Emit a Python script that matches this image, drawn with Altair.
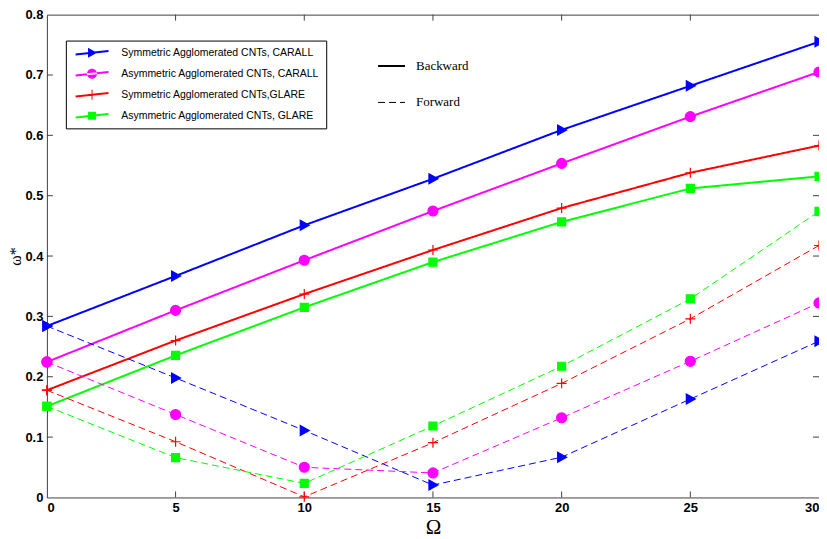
import altair as alt
import pandas as pd

omega = [0, 5, 10, 15, 20, 25, 30]
series_names = [
    "Symmetric Agglomerated CNTs, CARALL",
    "Asymmetric Agglomerated CNTs, CARALL",
    "Symmetric Agglomerated CNTs,GLARE",
    "Asymmetric Agglomerated CNTs, GLARE",
]
colors = ["#0000ff", "#ff00ff", "#ff0000", "#00ff00"]
directions = ["Backward", "Forward"]

backward_sym_carall = [0.284, 0.367, 0.451, 0.528, 0.609, 0.682, 0.755]
backward_asym_carall = [0.2245, 0.310, 0.393, 0.4746, 0.5535, 0.631, 0.705]
backward_sym_glare = [0.1777, 0.260, 0.337, 0.410, 0.4795, 0.538, 0.583]
backward_asym_glare = [0.151, 0.2354, 0.315, 0.390, 0.4566, 0.512, 0.532]
forward_sym_carall = [0.284, 0.198, 0.111, 0.0205, 0.0667, 0.163, 0.259]
forward_asym_carall = [0.2245, 0.1375, 0.050, 0.0406, 0.132, 0.2256, 0.3223]
forward_sym_glare = [0.1777, 0.0923, 0.001, 0.0907, 0.189, 0.296, 0.4175]
forward_asym_glare = [0.151, 0.066, 0.0233, 0.1184, 0.2174, 0.329, 0.474]

x_ticks = [0, 5, 10, 15, 20, 25, 30]
y_ticks = [0, 0.1, 0.2, 0.3, 0.4, 0.5, 0.6, 0.7, 0.8]

backward = [backward_sym_carall, backward_asym_carall, backward_sym_glare, backward_asym_glare]
forward = [forward_sym_carall, forward_asym_carall, forward_sym_glare, forward_asym_glare]

rows = []
for name, vals in zip(series_names, backward):
    for o, v in zip(omega, vals):
        rows.append({"omega": o, "value": v, "series": name, "direction": "Backward"})
for name, vals in zip(series_names, forward):
    for o, v in zip(omega, vals):
        rows.append({"omega": o, "value": v, "series": name, "direction": "Forward"})
df = pd.DataFrame(rows)

W, H = 774, 484

# marker shapes for the data points
point_shapes = [
    "M-0.8,-1L1,0L-0.8,1Z",
    "circle",
    "M-1,0L1,0M0,-1L0,1",
    "M-0.8,-0.8L0.8,-0.8L0.8,0.8L-0.8,0.8Z",
]
# legend symbols: slanted line sample plus marker
line_seg = "M-3.3,0.15L3.3,-0.55L3.3,-0.15L-3.3,0.55Z"
legend_shapes = [
    line_seg + "M-0.8,-1L1,0L-0.8,1Z",
    line_seg + "M-1,0A1,1 0 1,0 1,0A1,1 0 1,0 -1,0Z",
    line_seg + "M-1,-0.1L1,-0.1L1,0.1L-1,0.1ZM-0.1,-1L0.1,-1L0.1,1L-0.1,1Z",
    line_seg + "M-0.8,-0.8L0.8,-0.8L0.8,0.8L-0.8,0.8Z",
]

x_scale = alt.Scale(domain=[0, 30], nice=False)
y_scale = alt.Scale(domain=[0, 0.8], nice=False)

label_font = "Liberation Sans Narrow, Liberation Sans, Arial"

x_enc = alt.X(
    "omega:Q", scale=x_scale,
    axis=alt.Axis(values=x_ticks, format="d", ticks=False, domain=False, grid=False,
                  labelFont=label_font, labelFontWeight="bold", labelFontSize=13,
                  labelPadding=4, labelColor="black",
                  title="Ω", titleFont="Liberation Serif", titleFontSize=21,
                  titleFontWeight="normal", titlePadding=2, titleColor="black"),
)
y_enc = alt.Y(
    "value:Q", scale=y_scale,
    axis=alt.Axis(values=y_ticks, format="~g", ticks=False, domain=False, grid=False,
                  labelFont=label_font, labelFontWeight="bold", labelFontSize=13,
                  labelPadding=4, labelColor="black",
                  title="ω*", titleFont="Liberation Serif", titleFontSize=16,
                  titleFontWeight="normal", titlePadding=1, titleColor="black"),
)

lines = alt.Chart(df).mark_line().encode(
    x=x_enc,
    y=y_enc,
    color=alt.Color("series:N", scale=alt.Scale(domain=series_names, range=colors), legend=None),
    detail="direction:N",
    strokeWidth=alt.StrokeWidth("direction:N", scale=alt.Scale(domain=directions, range=[2, 1]), legend=None),
    strokeDash=alt.StrokeDash(
        "direction:N",
        scale=alt.Scale(domain=directions, range=[[1, 0], [7, 4]]),
        legend=alt.Legend(orient="none", legendX=331, legendY=37, title=None,
                          symbolType="stroke", symbolSize=729, symbolStrokeColor="black",
                          symbolStrokeWidth=1, labelFont="Liberation Serif", labelFontSize=13,
                          labelColor="black", labelOffset=10, rowPadding=15, padding=0),
    ),
    order="omega:Q",
)

points = alt.Chart(df).mark_point(filled=True, strokeWidth=1.2, opacity=1, size=100).encode(
    x=alt.X("omega:Q", scale=x_scale),
    y=alt.Y("value:Q", scale=y_scale),
    color=alt.Color("series:N", scale=alt.Scale(domain=series_names, range=colors), legend=None),
    stroke=alt.Stroke("series:N", scale=alt.Scale(domain=series_names, range=colors), legend=None),
    shape=alt.Shape("series:N", scale=alt.Scale(domain=series_names, range=point_shapes), legend=None),
)

series_legend = alt.Legend(orient="none", legendX=19, legendY=26, title=None,
                           symbolSize=100, symbolStrokeWidth=0, symbolOpacity=1,
                           labelFont="Liberation Sans, Arial", labelFontSize=10.5,
                           labelColor="black", labelLimit=400,
                           strokeColor="black", fillColor="white",
                           padding=7, rowPadding=10, symbolOffset=14, labelOffset=24)

legend_layer = alt.Chart(df[df["direction"] == "Backward"]).mark_point(filled=True, opacity=0, size=100).encode(
    x=alt.X("omega:Q", scale=x_scale),
    y=alt.Y("value:Q", scale=y_scale),
    color=alt.Color("series:N", scale=alt.Scale(domain=series_names, range=colors), legend=series_legend),
    shape=alt.Shape("series:N", scale=alt.Scale(domain=series_names, range=legend_shapes), legend=series_legend),
)

tick_color = "#404040"
x_inner = pd.DataFrame({"t": x_ticks[1:-1]})
y_inner = pd.DataFrame({"t": y_ticks[1:-1]})

xt_bottom = alt.Chart(x_inner).mark_rule(color=tick_color, strokeWidth=1).encode(
    x=alt.X("t:Q", scale=x_scale), y=alt.value(H), y2=alt.value(H - 6))
xt_top = alt.Chart(x_inner).mark_rule(color=tick_color, strokeWidth=1).encode(
    x=alt.X("t:Q", scale=x_scale), y=alt.value(0), y2=alt.value(6))
yt_left = alt.Chart(y_inner).mark_rule(color=tick_color, strokeWidth=1).encode(
    y=alt.Y("t:Q", scale=y_scale), x=alt.value(0), x2=alt.value(6))
yt_right = alt.Chart(y_inner).mark_rule(color=tick_color, strokeWidth=1).encode(
    y=alt.Y("t:Q", scale=y_scale), x=alt.value(W), x2=alt.value(W - 6))

chart = alt.layer(
    xt_bottom, xt_top, yt_left, yt_right, lines, points, legend_layer
).resolve_scale(
    color="independent", shape="independent", stroke="independent"
).properties(
    width=W, height=H,
    autosize=alt.AutoSizeParams(type="none"),
    padding={"left": 39, "top": 6, "right": 0, "bottom": 41},
    background="white",
).configure_view(
    stroke=tick_color, strokeWidth=1
)

chart.save("out.html", embed_options={"renderer": "svg", "actions": False})
